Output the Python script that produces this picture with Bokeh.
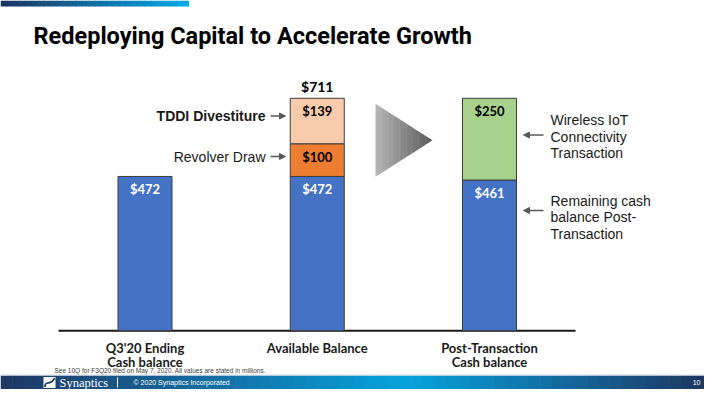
from bokeh.plotting import figure
from bokeh.models import Range1d, Arrow, NormalHead, ColumnDataSource
from bokeh.core.properties import value
from bokeh.embed import file_html
from bokeh.resources import INLINE

# ---------------- data ----------------
categories = ["Q3'20 Ending\nCash balance", "Available Balance", "Post-Transaction\nCash balance"]
cash_balance = [472, 472, 461]
revolver_draw = [0, 100, 0]
tddi_divestiture = [0, 139, 0]
wireless_iot = [0, 0, 250]
show_total = [False, True, False]

title_text = "Redeploying Capital to Accelerate Growth"
footnote = "See 10Q for F3Q20 filed on May 7, 2020.  All values are stated in millions."

# ---------------- layout helpers ----------------
W, H = 704, 389
BAR0_PX, STEP_PX = 144.5, 172.25     # px of first bar centre, px per category
BASE_PX, PX_PER_UNIT = 330.3, 0.327   # px of y=0, px per $M


def X(px):
    return (px - BAR0_PX) / STEP_PX


def Y(py):
    return (BASE_PX - py) / PX_PER_UNIT


def hex2rgb(h):
    h = h.lstrip("#")
    return tuple(int(h[i:i + 2], 16) for i in (0, 2, 4))


def lerp_color(stops, t):
    for (t0, c0), (t1, c1) in zip(stops, stops[1:]):
        if t0 <= t <= t1:
            f = 0 if t1 == t0 else (t - t0) / (t1 - t0)
            a, b = hex2rgb(c0), hex2rgb(c1)
            return "#%02x%02x%02x" % tuple(int(round(a[k] + (b[k] - a[k]) * f)) for k in range(3))
    return stops[-1][1]


p = figure(width=W, height=H, x_range=Range1d(X(0), X(W)), y_range=Range1d(Y(H), Y(0)),
           output_backend="svg", toolbar_location=None, x_axis_location=None, y_axis_location=None,
           min_border=0, outline_line_color=None, title=None,
           background_fill_color="white", border_fill_color="white")
p.grid.visible = False

# ---------------- header gradient bar ----------------
n = 30
hx0, hx1 = 0, 188
for i in range(n):
    a = hx0 + (hx1 - hx0) * i / n
    b = hx0 + (hx1 - hx0) * (i + 1) / n + 0.6
    p.quad(left=X(a), right=X(b), top=Y(0), bottom=Y(6), line_color=None,
           fill_color=lerp_color([(0, "#1c355f"), (1, "#03a9e6")], i / (n - 1)))

# ---------------- title ----------------
p.text(x=[X(33)], y=[Y(35)], text=[title_text], text_font=value("Roboto"),
       text_font_style="bold", text_font_size="23.5px", text_color="#000000",
       text_baseline="middle", text_align="left")

# ---------------- stacked bars ----------------
series = [
    (cash_balance, "#4472C4", "#ffffff"),
    (revolver_draw, "#ED7D31", "#000000"),
    (tddi_divestiture, "#F8CBAD", "#000000"),
    (wireless_iot, "#A9D18E", "#000000"),
]
seg = dict(x=[], bottom=[], top=[], color=[], label=[], tcolor=[])
cum = [0] * len(categories)
for vals, col, tcol in series:
    for i, v in enumerate(vals):
        if v > 0:
            seg["x"].append(i)
            seg["bottom"].append(cum[i])
            seg["top"].append(cum[i] + v)
            seg["color"].append(col)
            seg["label"].append("$%d" % v)
            seg["tcolor"].append(tcol)
            cum[i] += v
src = ColumnDataSource(seg)

# baseline (x axis line)
p.segment(x0=[X(58)], y0=[0], x1=[X(575)], y1=[0], line_color="#1a1a1a", line_width=2)

p.vbar(x="x", bottom="bottom", top="top", width=54 / STEP_PX, fill_color="color",
       line_color="#3c3c3c", line_width=1, source=src)
p.text(x="x", y="top", text="label", text_color="tcolor", y_offset=13, text_align="center",
       text_baseline="middle", text_font=value("Lato"), text_font_style="bold",
       text_font_size="13px", source=src)

tot = dict(x=[i for i in range(len(categories)) if show_total[i]],
           y=[cum[i] for i in range(len(categories)) if show_total[i]],
           t=["$%d" % cum[i] for i in range(len(categories)) if show_total[i]])
p.text(x="x", y="y", text="t", y_offset=-12, text_align="center", text_baseline="middle",
       text_font=value("Lato"), text_font_style="bold", text_font_size="14px",
       text_color="#000000", source=ColumnDataSource(tot))

# category labels
for i, cat in enumerate(categories):
    for j, line in enumerate(cat.split("\n")):
        p.text(x=[i], y=[0], text=[line], y_offset=17 + 14 * j, text_align="center",
               text_baseline="middle", text_font=value("Lato"), text_font_style="bold",
               text_font_size="13px", text_color="#1a1a1a")

# ---------------- annotations ----------------
ann_font = value("Liberation Sans")
p.text(x=[X(265)], y=[Y(115)], text=["TDDI Divestiture"], text_align="right", text_baseline="middle",
       text_font=ann_font, text_font_style="bold", text_font_size="14px", text_color="#1a1a1a")
p.text(x=[X(265)], y=[Y(156)], text=["Revolver Draw"], text_align="right", text_baseline="middle",
       text_font=ann_font, text_font_size="14px", text_color="#1a1a1a")
for j, line in enumerate(["Wireless IoT", "Connectivity", "Transaction"]):
    p.text(x=[X(550)], y=[Y(119.5 + 16.7 * j)], text=[line], text_align="left", text_baseline="middle",
           text_font=ann_font, text_font_size="14px", text_color="#1a1a1a")
for j, line in enumerate(["Remaining cash", "balance Post-", "Transaction"]):
    p.text(x=[X(550)], y=[Y(200 + 16.7 * j)], text=[line], text_align="left", text_baseline="middle",
           text_font=ann_font, text_font_size="14px", text_color="#1a1a1a")

arrows = [((270, 115.5), (285, 115.5)), ((270, 156), (285, 156)),
          ((543, 134.5), (523, 134.5)), ((543, 210), (523, 210))]
for (sx, sy), (ex, ey) in arrows:
    p.add_layout(Arrow(end=NormalHead(size=6, fill_color="#595959", line_color="#595959"),
                       x_start=X(sx), y_start=Y(sy), x_end=X(ex), y_end=Y(ey),
                       line_color="#595959", line_width=1.5))

# ---------------- grey gradient triangle ----------------
tx0, tx1, tcy, thh = 375, 432, 139.8, 36.5
nt = 24
xs, ys, cols = [], [], []
for i in range(nt):
    a = tx0 + (tx1 - tx0) * i / nt
    b = min(tx1, tx0 + (tx1 - tx0) * (i + 1) / nt + 0.5)
    ha = thh * (1 - (a - tx0) / (tx1 - tx0))
    hb = thh * (1 - (b - tx0) / (tx1 - tx0))
    xs.append([X(a), X(b), X(b), X(a)])
    ys.append([Y(tcy - ha), Y(tcy - hb), Y(tcy + hb), Y(tcy + ha)])
    cols.append(lerp_color([(0, "#b4b4b4"), (1, "#5c5c5c")], i / (nt - 1)))
p.patches(xs=xs, ys=ys, fill_color=cols, line_color=None)

# ---------------- footnote ----------------
p.text(x=[X(54)], y=[Y(370)], text=[footnote], text_align="left", text_baseline="middle",
       text_font=value("Liberation Sans"), text_font_size="6.5px", text_color="#404040")

# ---------------- footer band ----------------
fy0, fy1 = 375, 389
nf = 60
stops = [(0, "#1f3864"), (0.58, "#06a2de"), (1, "#1d3863")]
for i in range(nf):
    a = W * i / nf
    b = W * (i + 1) / nf + 0.6
    p.quad(left=X(a), right=X(b), top=Y(fy0), bottom=Y(fy1), line_color=None,
           fill_color=lerp_color(stops, i / (nf - 1)))
p.segment(x0=[X(0)], y0=[Y(374.5)], x1=[X(W)], y1=[Y(374.5)], line_color="#d5dde5", line_width=1)

# logo
p.quad(left=X(43), right=X(55), top=Y(376.5), bottom=Y(387.5), fill_color="white",
       line_color=None)
p.bezier(x0=X(44.5), y0=Y(386.5), x1=X(54), y1=Y(377.5), cx0=X(44), cy0=Y(379), cx1=X(51), cy1=Y(386),
         line_color="#1f3864", line_width=1.8)
p.text(x=[X(59)], y=[Y(382)], text=["Synaptics"], text_align="left", text_baseline="middle",
       text_font=value("Liberation Serif"), text_font_size="12.5px", text_color="white")
p.segment(x0=[X(117)], y0=[Y(377)], x1=[X(117)], y1=[Y(387)], line_color="white", line_width=1)
p.text(x=[X(133)], y=[Y(382)], text=["\u00a9 2020 Synaptics Incorporated"], text_align="left",
       text_baseline="middle", text_font=value("Liberation Sans"), text_font_size="7px",
       text_color="white")
p.text(x=[X(700)], y=[Y(382)], text=["10"], text_align="right", text_baseline="middle",
       text_font=value("Liberation Sans"), text_font_size="7px", text_color="white")

open("out.html", "w").write(file_html(p, INLINE))
